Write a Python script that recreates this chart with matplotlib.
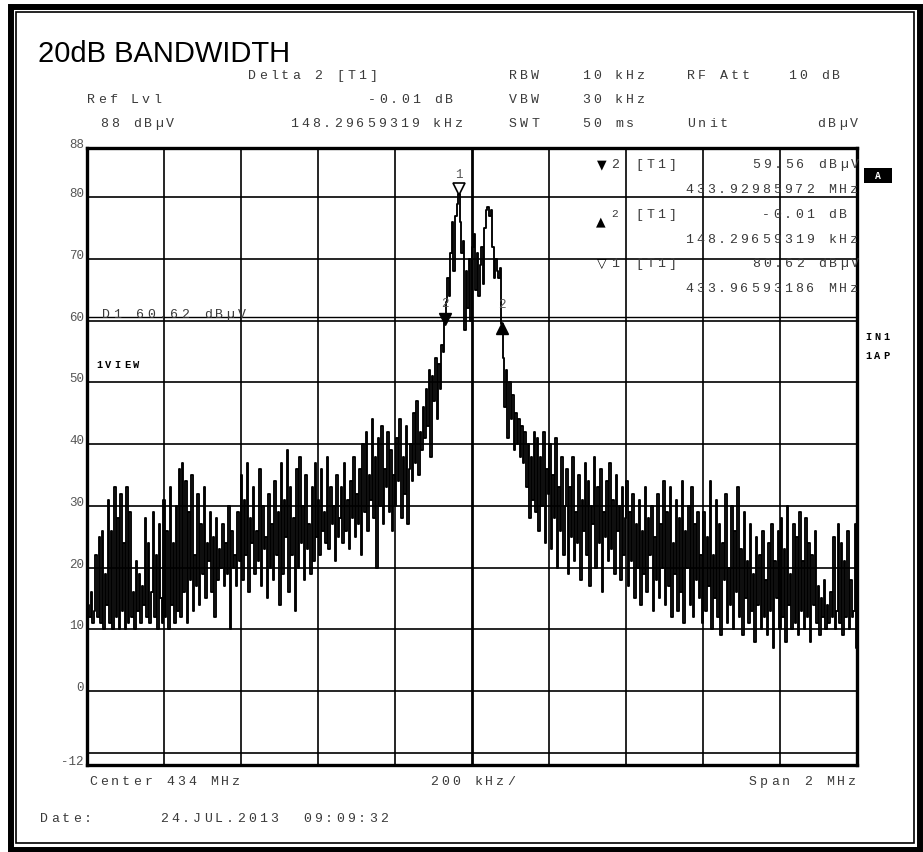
import numpy as np
import matplotlib
matplotlib.use("Agg")
import matplotlib.pyplot as plt
from matplotlib.patches import Rectangle
from matplotlib.transforms import ScaledTranslation

# sweep settings
CENTER_MHZ = 434.0
SPAN_MHZ = 2.0
N_POINTS = 500
REF_LEVEL = 88
BOTTOM_LEVEL = -12

# trace levels in dBuV, one value per sweep point, left to right
trace_left = [
    15, 14, 12, 16, 11, 13, 22, 12, 25, 11,
    26, 10, 19, 14, 31, 11, 26, 10, 33, 12,
    28, 10, 32, 13, 24, 10, 33, 11, 29, 12,
    16, 10, 21, 13, 19, 11, 17, 14, 28, 12,
    24, 11, 16, 29, 12, 22, 10, 27, 15, 11,
    31, 12, 26, 10, 33, 14, 24, 11, 30, 13,
    36, 12, 37, 16, 34, 11, 29, 18, 35, 13,
    22, 17, 32, 14, 27, 19, 33, 15, 24, 21,
    29, 16, 25, 12, 28, 18, 23, 20, 27, 17,
    24, 19, 30, 10, 26, 20, 22, 17, 29, 21,
    35, 18, 31, 22, 37, 16, 28, 24, 33, 19,
    26, 21, 36, 17, 30, 23, 25, 15, 32, 20,
    27, 18, 34, 22, 29, 14, 37, 19, 31, 25,
    39, 16, 33, 22, 28, 13, 36, 20, 38, 24,
    30, 18, 35, 23, 27, 19, 33, 21, 37, 25,
    31, 22, 36, 26, 29, 24, 38, 23, 33, 27,
    30, 21, 35, 25, 28, 33, 24, 37, 26, 31,
    23, 34, 28, 38, 25, 32, 27, 36, 22, 40,
    29, 42, 26, 35, 31, 44, 28, 38, 20, 41,
    30, 43, 27, 36, 33, 42, 29, 39, 26, 35,
    30, 41, 34, 44, 28, 38, 32, 43, 27, 36,
    40, 34, 45, 37, 47, 35, 42, 39, 46, 41,
    49, 43, 52, 38, 51, 47, 54, 44, 53, 49,
    56, 55,
]
trace_peak = [
    59.56, 63, 67, 64, 71, 76, 68, 77, 79, 80.62,
    76, 71, 73, 58.5, 68, 62, 70, 60, 72, 74,
    65, 71, 64, 69, 72, 66, 75, 78, 78.5, 77,
    78, 72, 67, 70, 68, 67, 68.5, 59.55,
]
trace_right = [
    54, 46, 52, 41, 50, 44, 48, 39, 45, 40,
    44, 38, 43, 37, 42, 33, 40, 28, 38, 31,
    42, 29, 41, 26, 38, 30, 42, 24, 36, 32,
    40, 23, 35, 28, 41, 20, 33, 26, 38, 22,
    30, 36, 19, 33, 25, 38, 21, 29, 24, 35,
    18, 31, 26, 37, 22, 34, 17, 30, 27, 38,
    20, 33, 24, 36, 16, 29, 25, 34, 21, 37,
    23, 31, 19, 35, 26, 30, 18, 33, 22, 28,
    34, 17, 29, 21, 32, 15, 27, 20, 31, 14,
    26, 19, 33, 16, 28, 22, 30, 13, 25, 18,
    32, 15, 27, 20, 34, 14, 29, 17, 33, 12,
    24, 19, 31, 13, 28, 16, 34, 11, 26, 20,
    30, 14, 33, 12, 27, 18, 29, 15, 22, 11,
    29, 13, 25, 17, 34, 10, 22, 15, 31, 12,
    27, 9, 24, 18, 32, 11, 20, 14, 30, 10,
    26, 16, 33, 12, 23, 9, 29, 15, 21, 11,
    27, 13, 19, 8, 25, 14, 22, 10, 26, 12,
    18, 9, 24, 13, 27, 7, 21, 15, 26, 10,
    28, 12, 23, 8, 30, 14, 19, 10, 27, 11,
    25, 9, 29, 13, 21, 10, 28, 12, 24, 8,
    22, 14, 26, 11, 17, 9, 15, 12, 18, 10,
    14, 11, 16, 12, 25, 10, 13, 27, 11, 24,
    9, 21, 12, 26, 10, 18, 12, 13, 27, 7,
]

# markers 1, 2 and delta 2 (frequency MHz, level dBuV)
marker_freq = [433.96593186, 433.92985972, 433.92985972 + 0.14829659319]
marker_level = [80.62, 59.56, 59.56 - 0.01]
display_line = 60.62

W, H = 923, 852
TXT = "#3a3a3a"
MONO = ["Liberation Mono", "DejaVu Sans Mono"]
SYM = ["DejaVu Sans"]

trace = np.array(trace_left + trace_peak + trace_right, dtype=float)
freq = np.linspace(CENTER_MHZ - SPAN_MHZ / 2, CENTER_MHZ + SPAN_MHZ / 2, N_POINTS)

fig = plt.figure(figsize=(W / 100, H / 100), dpi=100)
fig.patch.set_facecolor("white")


def px(x, y):
    return x / W, 1 - y / H


def mono(x, y, s, pitch=11.0, size=9.5, weight="normal", color=TXT, family=MONO):
    # instrument printout uses a wide fixed character cell
    for k, ch in enumerate(s):
        if ch == " ":
            continue
        fig.text(*px(x + k * pitch, y), ch, ha="left", va="baseline",
                 fontsize=size, fontweight=weight, color=color, family=family)


# outer frame of the printout
fig.add_artist(Rectangle(px(10.5, 849.5), 909 / W, 843 / H, transform=fig.transFigure,
                         fill=False, lw=4.3, ec="black"))
fig.add_artist(Rectangle(px(16, 843), 898 / W, 831 / H, transform=fig.transFigure,
                         fill=False, lw=1.2, ec="black"))

ax = fig.add_axes([87 / W, 1 - 765 / H, 770 / W, 617 / H])
ax.set_xlim(freq[0], freq[-1])
ax.set_ylim(BOTTOM_LEVEL, REF_LEVEL)
ax.set_xticks([])
ax.set_yticks([])
for sp in ax.spines.values():
    sp.set_linewidth(2.4)

# graticule: 10 divisions across, 10 dB per division
for k in range(1, 10):
    f = freq[0] + k * SPAN_MHZ / 10
    ax.axvline(f, color="black", lw=2.0 if k == 5 else 1.2, zorder=1)
for lvl in range(-10, 90, 10):
    ax.axhline(lvl, color="black", lw=1.2, zorder=1)
ax.axhline(display_line, color="black", lw=1.0, zorder=1)

ax.plot(freq, trace, color="black", lw=1.35, drawstyle="steps-mid", zorder=3)

# level scale on the left
for lvl in [88, 80, 70, 60, 50, 40, 30, 20, 10, 0, -12]:
    ax.text(-0.004, lvl, str(lvl), transform=ax.get_yaxis_transform(), ha="right",
            va="baseline", fontsize=9, color="#555555", family=MONO)

# markers with their numbers
up = ScaledTranslation(0, 4.5 / 100, fig.dpi_scale_trans)
down = ScaledTranslation(0, -4.5 / 100, fig.dpi_scale_trans)
ax.plot(marker_freq[0], marker_level[0], marker="v", ms=8, mfc="white", mec="black",
        mew=1.2, transform=ax.transData + up, zorder=4)
ax.plot(marker_freq[1], marker_level[1], marker="v", ms=8, color="black",
        transform=ax.transData + up, zorder=4)
ax.plot(marker_freq[2], marker_level[2], marker="^", ms=8, color="black",
        transform=ax.transData + down, zorder=4)
for f, lvl, lab in zip(marker_freq, marker_level, ["1", "2", "2"]):
    ax.annotate(lab, xy=(f, lvl), xytext=(0, 16), textcoords="offset pixels",
                ha="center", va="baseline", fontsize=9, color="#555555", family=MONO)

# header
fig.text(*px(38, 62), "20dB BANDWIDTH", fontsize=21, family=["Liberation Sans", "DejaVu Sans"],
         color="black", ha="left", va="baseline")
mono(248, 79, "Delta 2 [T1]")
mono(509, 79, "RBW")
mono(582, 79, "10 kHz")
mono(687, 79, "RF Att")
mono(788, 79, "10 dB")
mono(87, 103, "Ref Lvl")
mono(368, 103, "-0.01 dB")
mono(509, 103, "VBW")
mono(582, 103, "30 kHz")
mono(100, 127, "88 dB\u00b5V")
mono(290, 127, "148.29659319 kHz")
mono(509, 127, "SWT")
mono(582, 127, "50 ms")
mono(687, 127, "Unit")
mono(817, 127, "dB\u00b5V")

# marker readout inside the grid
fig.text(*px(597, 168), "\u25bc", fontsize=9, family=SYM, color="black", va="baseline")
mono(611, 168, "2")
mono(635, 168, "[T1]")
mono(752, 168, "59.56 dB\u00b5V")
mono(685, 193, "433.92985972 MHz")
fig.text(*px(596, 225), "\u25b2", fontsize=9, family=SYM, color="black", va="baseline")
mono(611, 217, "2", size=8)
mono(635, 218, "[T1]")
mono(762, 218, "-0.01 dB")
mono(685, 243, "148.29659319 kHz")
fig.text(*px(597, 267), "\u25bd", fontsize=9, family=SYM, color="black", va="baseline")
mono(611, 267, "1")
mono(635, 267, "[T1]")
mono(752, 267, "80.62 dB\u00b5V")
mono(685, 292, "433.96593186 MHz")

mono(102, 318, "D1 60.62 dB\u00b5V", pitch=11.3)
mono(96, 368, "1VIEW", pitch=9.3, size=7.5, weight="bold", color="black")

# side annotations
fig.add_artist(Rectangle(px(864, 183), 28 / W, 15 / H, transform=fig.transFigure,
                         color="black", lw=0))
fig.text(*px(878, 179), "A", fontsize=7, fontweight="bold", family=MONO, color="white",
         ha="center", va="baseline")
mono(865, 340, "IN1", pitch=9.3, size=7.5, weight="bold", color="black")
mono(865, 359, "1AP", pitch=9.3, size=7.5, weight="bold", color="black")

# footer
mono(89, 785, "Center 434 MHz")
mono(430, 785, "200 kHz/")
mono(749, 785, "Span 2 MHz")
mono(40, 822, "Date:")
mono(160, 822, "24.JUL.2013  09:09:32")

fig.savefig("out.png", dpi=100, facecolor="white")
